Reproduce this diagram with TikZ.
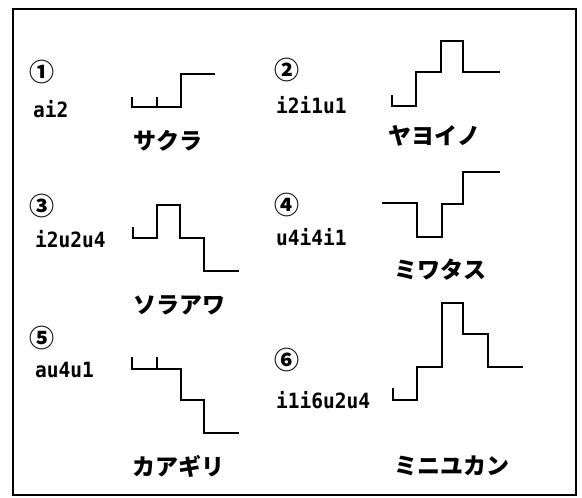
\documentclass[tikz,border=0pt]{standalone}
\usepackage{fontspec}
\newfontfamily\jp{Noto Sans CJK JP}
\newfontfamily\lab{DejaVu Sans Mono}[FakeStretch=0.93]
\begin{document}
\begin{tikzpicture}[x=1pt,y=-1pt,
  stair/.style={line width=2.2pt, line join=miter, line cap=butt},
  lab/.style={anchor=base west, inner sep=0pt, font=\lab\bfseries\fontsize{21}{21}\selectfont},
  num/.style={inner sep=0pt, font=\jp\bfseries\fontsize{25}{25}\selectfont},
  kana/.style={inner sep=0pt, font=\jp\bfseries\fontsize{23}{23}\selectfont}]
\useasboundingbox (0,0) rectangle (582,498);
\draw[line width=1.8pt] (13,9) rectangle (576,495);
% labels
\node[num] (n1) at (42,72) {①};
\node[lab] (l1) at (33,117) {ai2};
\node[num] (n2) at (287,70) {②};
\node[lab] (l2) at (276,113) {i2i1u1};
\node[num] (n3) at (42,206) {③};
\node[lab] (l3) at (35,247) {i2u2u4};
\node[num] (n4) at (287,205) {④};
\node[lab] (l4) at (276,245) {u4i4i1};
\node[num] (n5) at (42,338) {⑤};
\node[lab] (l5) at (35,377) {au4u1};
\node[num] (n6) at (287,360) {⑥};
\node[lab] (l6) at (276,408) {i1i6u2u4};
% names
\node[kana] (k1) at (168,141) {サクラ};
\node[kana] (k2) at (434,136) {ヤヨイノ};
\node[kana] (k3) at (179,305) {ソラアワ};
\node[kana] (k4) at (440,270) {ミワタス};
\node[kana] (k5) at (178,466) {カアギリ};
\node[kana] (k6) at (452,466) {ミニユカン};
% staircases
\draw[stair] (132,97) -- (132,107) -- (181,107) -- (181,74) -- (215,74);
\draw[stair] (157,107) -- (157,97);
\draw[stair] (392,95) -- (392,106) -- (416,106) -- (416,72) -- (441,72) -- (441,41) -- (463,41) -- (463,72) -- (500,72);
\draw[stair] (133,227) -- (133,238) -- (157,238) -- (157,205) -- (180,205) -- (180,238) -- (204,238) -- (204,271) -- (239,271);
\draw[stair] (382,203) -- (417,203) -- (417,237) -- (442,237) -- (442,204) -- (463,204) -- (463,172) -- (500,172);
\draw[stair] (132,357) -- (132,369) -- (181,369) -- (181,400) -- (204,400) -- (204,433) -- (239,433);
\draw[stair] (157,369) -- (157,357);
\draw[stair] (393,388) -- (393,400) -- (417,400) -- (417,367) -- (442,367) -- (442,303) -- (463,303) -- (463,334) -- (488,334) -- (488,367) -- (523,367);
\end{tikzpicture}
\end{document}
